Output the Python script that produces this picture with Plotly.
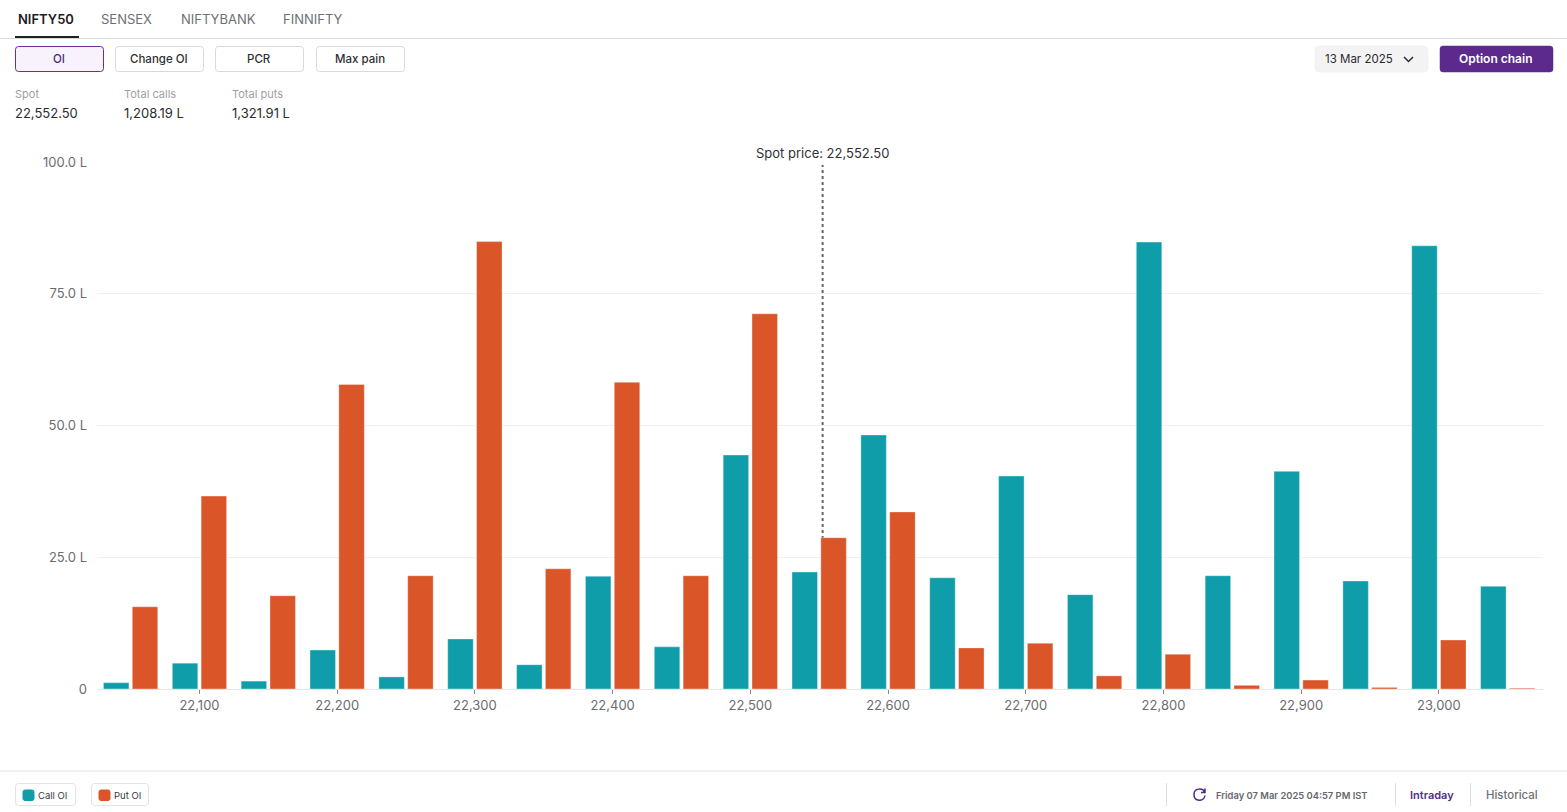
import plotly.graph_objects as go

W, H = 1567, 812

strikes = [22050, 22100, 22150, 22200, 22250, 22300, 22350, 22400, 22450, 22500, 22550,
           22600, 22650, 22700, 22750, 22800, 22850, 22900, 22950, 23000, 23050]
call_oi = [1.2, 4.9, 1.5, 7.4, 2.3, 9.5, 4.6, 21.4, 8.0, 44.4, 22.2,
           48.2, 21.1, 40.4, 17.9, 84.8, 21.5, 41.3, 20.5, 84.1, 19.5]
put_oi = [15.6, 36.6, 17.7, 57.8, 21.5, 84.9, 22.8, 58.2, 21.5, 71.2, 28.7,
          33.6, 7.8, 8.7, 2.5, 6.6, 0.7, 1.7, 0.3, 9.3, 0.15]
x_ticks = [22100, 22200, 22300, 22400, 22500, 22600, 22700, 22800, 22900, 23000]
y_ticks = [0, 25, 50, 75, 100]
y_labels = ["0", "25.0 L", "50.0 L", "75.0 L", "100.0 L"]
spot = 22552.50

TEAL, ORANGE, PURPLE = "#0F9DA9", "#DA5528", "#5B2A8C"
FONT = "Inter"


def px(x):
    return x / W


def py(y):
    return 1 - y / H


shapes, notes = [], []


def rrect(x0, y0, x1, y1, r, fill="rgba(0,0,0,0)", line="#D9D9DC", lw=1):
    a, b, c, d = x0, y0, x1, y1
    path = (f"M {px(a+r)} {py(b)} L {px(c-r)} {py(b)} Q {px(c)} {py(b)} {px(c)} {py(b+r)} "
            f"L {px(c)} {py(d-r)} Q {px(c)} {py(d)} {px(c-r)} {py(d)} "
            f"L {px(a+r)} {py(d)} Q {px(a)} {py(d)} {px(a)} {py(d-r)} "
            f"L {px(a)} {py(b+r)} Q {px(a)} {py(b)} {px(a+r)} {py(b)} Z")
    shapes.append(dict(type="path", xref="paper", yref="paper", path=path, fillcolor=fill,
                       line=dict(color=line, width=lw)))


def hv(x0, y0, x1, y1, color, lw=1):
    shapes.append(dict(type="line", xref="paper", yref="paper", x0=px(x0), x1=px(x1),
                       y0=py(y0), y1=py(y1), line=dict(color=color, width=lw)))


def text(x, y, s, size, color, anchor="left", weight=400):
    notes.append(dict(xref="paper", yref="paper", x=px(x), y=py(y), text=s, showarrow=False,
                      xanchor=anchor, yanchor="middle",
                      xshift=-2 if anchor == "left" else -0.5,
                      font=dict(family=FONT, size=size, color=color, weight=weight)))


# tabs
hv(0, 38.5, W, 38.5, "#D8D8DA")
hv(15, 37, 79, 37, "#222222", 2)
text(18, 19, "NIFTY50", 13, "#1F2024", weight=600)
text(101, 19, "SENSEX", 13, "#6E6F73")
text(181, 19, "NIFTYBANK", 13, "#6E6F73")
text(283, 19, "FINNIFTY", 13, "#6E6F73")

# buttons
rrect(15.5, 46.5, 103.5, 71.5, 3, fill="#F8F2FC", line="#6A2C9E")
text(59.5, 59, "OI", 11.5, "#4A2A78", "center", 500)
for x0, x1, label in [(115.5, 203.5, "Change OI"), (215.5, 303.5, "PCR"), (316.5, 404.5, "Max pain")]:
    rrect(x0, 46.5, x1, 71.5, 3)
    text((x0 + x1) / 2, 59, label, 11.5, "#2F3034", "center", 500)

# stats
for x, label, value in [(15, "Spot", "22,552.50"), (124, "Total calls", "1,208.19 L"), (232, "Total puts", "1,321.91 L")]:
    text(x, 94, label, 11, "#A0A0A3")
    text(x, 113, value, 13, "#2B2C30")

# date and option chain
rrect(1315, 46, 1428, 72, 4, fill="#F3F3F4", line="#F3F3F4")
text(1359.5, 59, "13 Mar 2025", 11.5, "#2B2C30", "center", 400)
shapes.append(dict(type="path", xref="paper", yref="paper",
                   path=f"M {px(1404)} {py(57)} L {px(1408.5)} {py(61.5)} L {px(1413)} {py(57)}",
                   line=dict(color="#2B2C30", width=1.5)))
rrect(1440, 46, 1553, 72, 3, fill=PURPLE, line=PURPLE, lw=0.5)
text(1496, 59, "Option chain", 12, "#FFFFFF", "center", 600)

# spot line
shapes.append(dict(type="line", xref="x", yref="paper", x0=spot, x1=spot, y0=py(689), y1=py(165),
                   layer="below", line=dict(color="#666666", width=2, dash="dot")))
notes.append(dict(xref="x", yref="paper", x=spot, y=py(153), text="Spot price: 22,552.50", showarrow=False,
                  xanchor="center", yanchor="middle",
                  font=dict(family=FONT, size=13, color="#303134")))

# footer
hv(0, 771, W, 771, "#E3E3E5")
rrect(15.5, 783.5, 75.5, 805.5, 3, line="#E3E3E5")
rrect(23, 790, 34, 800.5, 2, fill=TEAL, line=TEAL)
text(38, 795, "Call OI", 9.5, "#3A3B3F")
rrect(91.5, 783.5, 148.5, 805.5, 3, line="#E3E3E5")
rrect(99, 790, 110, 800.5, 2, fill=ORANGE, line=ORANGE)
text(114, 795, "Put OI", 9.5, "#3A3B3F")
for x in (1166.5, 1395.5, 1470.5):
    hv(x, 783, x, 806, "#DEDEE0")
# refresh icon
cx, cy, r = 1199.5, 794.5, 5.5
shapes.append(dict(type="path", xref="paper", yref="paper",
                   path=(f"M {px(cx+r)} {py(cy+1)} C {px(cx+r-1)} {py(cy+r+2)} {px(cx-r)} {py(cy+r+2)} {px(cx-r)} {py(cy)} "
                         f"C {px(cx-r)} {py(cy-r-1.5)} {px(cx+r-2)} {py(cy-r-1)} {px(cx+r-0.5)} {py(cy-2.5)} "
                         f"M {px(cx+r)} {py(cy-6)} L {px(cx+r)} {py(cy-2)} L {px(cx+r-4)} {py(cy-2)}"),
                   line=dict(color="#4A2A86", width=1.5)))
text(1216, 795, "Friday 07 Mar 2025 04:57 PM IST", 9.4, "#66676B", weight=600)
text(1410, 794.5, "Intraday", 11, "#4F2F86", weight=600)
text(1486, 794.5, "Historical", 11.4, "#6E6F73", weight=500)

fig = go.Figure()
fig.add_bar(x=strikes, y=call_oi, name="Call OI", marker=dict(color=TEAL, line=dict(color="rgba(255,255,255,0.35)", width=1)))
fig.add_bar(x=strikes, y=put_oi, name="Put OI", marker=dict(color=ORANGE, line=dict(color="rgba(255,255,255,0.35)", width=1)))
fig.update_layout(
    width=W, height=H, autosize=False, margin=dict(l=0, r=0, t=0, b=0, pad=0),
    paper_bgcolor="white", plot_bgcolor="white", showlegend=False,
    barmode="group", bargap=0.163, bargroupgap=0.115,
    font=dict(family=FONT, color="#6B6C70"),
    shapes=shapes, annotations=notes,
    xaxis=dict(domain=[px(97), px(1543)], range=[22025.6, 23075.6], tickmode="array", tickvals=x_ticks,
               tickformat=",", ticks="outside", ticklen=4, tickcolor="#8A8A8E", tickwidth=1,
               showgrid=False, zeroline=False, showline=False, automargin=False,
               tickfont=dict(family=FONT, size=13, color="#6B6C70")),
    yaxis=dict(domain=[py(689), py(162)], range=[0, 100], tickmode="array", tickvals=y_ticks, ticktext=y_labels,
               ticks="", showgrid=True, gridcolor="#F0F0F2", gridwidth=1, zeroline=True,
               zerolinecolor="#E6E6E9", zerolinewidth=1, showline=False, automargin=False,
               ticklabelstandoff=9, tickfont=dict(family=FONT, size=13, color="#6B6C70")),
)
fig.write_html("out.html", config=dict(displayModeBar=False),
               post_script="document.body.style.margin='0';document.body.style.overflow='hidden';")
